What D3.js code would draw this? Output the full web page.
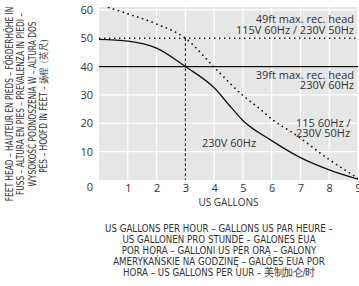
<!DOCTYPE html>
<html>
<head>
<meta charset="utf-8">
<script src="https://cdn.jsdelivr.net/npm/d3@7"></script>
<style>
  body { margin: 0; background: #fff; }
  text { fill: #333; }
  .axisText { font-family: "Open Sans", sans-serif; font-size: 11px; }
  .note { font-family: "Open Sans", sans-serif; font-size: 11px; }
  .cond { font-family: "Liberation Sans Narrow", "DejaVu Sans Condensed", sans-serif; font-size: 10.5px; }
</style>
</head>
<body>
<script>
// pump curves, head in feet vs US gallons
var curve230v60 = [[0, 49.6], [1, 49], [2, 46.5], [3, 40], [4, 32.5], [4.6, 25.5], [5, 21], [6, 13.9], [7, 7.9], [8, 3.6], [9, 0.3]];
var curve115v60 = [[0, 62], [0.4, 60.6], [1, 58.6], [2, 55], [3, 50], [4, 39.8], [5, 29.8], [5.6, 25], [6, 21.5], [6.8, 16.2], [8, 7.2], [9, 0.6]];
var maxHead115 = 50;
var maxHead230 = 40;
var markGallons = 3;
var xTicks = [1, 2, 3, 4, 5, 6, 7, 8, 9];
var yTicks = [0, 10, 20, 30, 40, 50, 60];

var yTitle = ["FEET HEAD – HAUTEUR EN PIEDS – FÖRDERHÖHE IN",
              "FUSS – ALTURA EN PIES – PREVALENZA IN PIEDI –",
              "WYSOKOŚĆ PODNOSZENIA W – ALTURA DOS",
              "PÉS – HOOFD IN FEET – 扬程（英尺）"];
var xCaption = ["US GALLONS PER HOUR – GALLONS US PAR HEURE –",
                "US GALLONEN PRO STUNDE – GALONES EUA",
                "POR HORA – GALLONI US PER ORA – GALONY",
                "AMERYKAŃSKIE NA GODZINĘ – GALÕES EUA POR",
                "HORA – US GALLONS PER UUR – 美制加仑/时"];

var width = 359, height = 286;
var plotL = 99, plotR = 358, plotT = 7, plotB = 180;

var svg = d3.select("body").append("svg")
    .attr("width", width)
    .attr("height", height);

var x = d3.scaleLinear().domain([0, 9]).range([plotL, plotR]);
var y = d3.scaleLinear().domain([0, 61]).range([plotB, plotT]);

svg.append("defs").append("clipPath").attr("id", "plot")
    .append("rect")
    .attr("x", plotL).attr("y", plotT)
    .attr("width", plotR - plotL).attr("height", plotB - plotT);

//grey plot background
svg.append("rect")
    .attr("x", plotL).attr("y", plotT)
    .attr("width", plotR - plotL).attr("height", plotB - plotT)
    .attr("fill", "#e6e6e6");

//white grid
svg.append("g").selectAll("line")
    .data(xTicks)
    .enter().append("line")
    .attr("x1", d => x(d)).attr("x2", d => x(d))
    .attr("y1", plotT).attr("y2", plotB)
    .attr("stroke", "#fff").attr("stroke-width", 1.2);
svg.append("g").selectAll("line")
    .data(yTicks.filter(d => d > 0))
    .enter().append("line")
    .attr("x1", plotL).attr("x2", plotR)
    .attr("y1", d => y(d)).attr("y2", d => y(d))
    .attr("stroke", "#fff").attr("stroke-width", 1.2);

//axes labels only, no lines
var xAxis = svg.append("g")
    .attr("transform", "translate(0," + plotB + ")")
    .call(d3.axisBottom(x).tickValues(xTicks).tickSize(0).tickPadding(4));
var yAxis = svg.append("g")
    .attr("transform", "translate(" + (plotL - 6) + ",0)")
    .call(d3.axisLeft(y).tickValues(yTicks).tickSize(0).tickPadding(0));
[xAxis, yAxis].forEach(function(g){
    g.select(".domain").remove();
    g.attr("font-family", null).attr("font-size", null);
    g.selectAll("text").attr("class", "axisText").attr("fill", "#333");
});
yAxis.selectAll(".tick").filter(d => d === 0).select("text").attr("dy", "0.95em");

var plot = svg.append("g").attr("clip-path", "url(#plot)");
var line = d3.line().x(d => x(d[0])).y(d => y(d[1])).curve(d3.curveMonotoneX);

//reference lines
plot.append("line")
    .attr("x1", plotL).attr("x2", plotR)
    .attr("y1", y(maxHead115)).attr("y2", y(maxHead115))
    .attr("stroke", "#111").attr("stroke-width", 1.4)
    .attr("stroke-dasharray", "1.4 3.6");
plot.append("line")
    .attr("x1", plotL).attr("x2", plotR)
    .attr("y1", y(maxHead230)).attr("y2", y(maxHead230))
    .attr("stroke", "#111").attr("stroke-width", 1.2);
plot.append("line")
    .attr("x1", x(markGallons)).attr("x2", x(markGallons))
    .attr("y1", y(maxHead115)).attr("y2", plotB)
    .attr("stroke", "#111").attr("stroke-width", 1)
    .attr("stroke-dasharray", "3 2");

//pump curves
plot.append("path")
    .datum(curve115v60)
    .attr("d", line)
    .attr("fill", "none").attr("stroke", "#111").attr("stroke-width", 1.7)
    .attr("stroke-linecap", "round")
    .attr("stroke-dasharray", "0.1 5");
plot.append("path")
    .datum(curve230v60)
    .attr("d", line)
    .attr("fill", "none").attr("stroke", "#111").attr("stroke-width", 1.3);

//annotations
function note(tx, ty, anchor, str){
    svg.append("text").attr("class", "note")
        .attr("x", tx).attr("y", ty)
        .attr("text-anchor", anchor)
        .text(str);
}
note(354, 23, "end", "49ft max. rec. head");
note(354, 33.5, "end", "115V 60Hz / 230V 50Hz");
note(354, 79, "end", "39ft max. rec. head");
note(354, 89, "end", "230V 60Hz");
note(296, 127, "start", "115 60Hz /");
note(296, 137, "start", "230V 50Hz");
note(202, 147, "start", "230V 60Hz");

svg.append("text").attr("class", "note")
    .attr("x", 228.5).attr("y", 206)
    .attr("text-anchor", "middle")
    .style("font-size", "10px")
    .text("US GALLONS");

//bottom caption, condensed
svg.append("g")
    .attr("transform", "translate(219,0) scale(0.92,1)")
    .selectAll("text")
    .data(xCaption)
    .enter().append("text")
    .attr("class", "cond")
    .attr("x", 0)
    .attr("y", (d, i) => 232 + i * 11)
    .attr("text-anchor", "middle")
    .text(d => d);

//rotated axis title
svg.append("g").selectAll("text")
    .data(yTitle)
    .enter().append("text")
    .attr("class", "cond")
    .style("font-size", "10px")
    .attr("text-anchor", "middle")
    .attr("transform", (d, i) => "translate(" + (12.5 + i * 11.5) + ",104) rotate(-90) scale(0.83,1)")
    .text(d => d);
</script>
</body>
</html>
